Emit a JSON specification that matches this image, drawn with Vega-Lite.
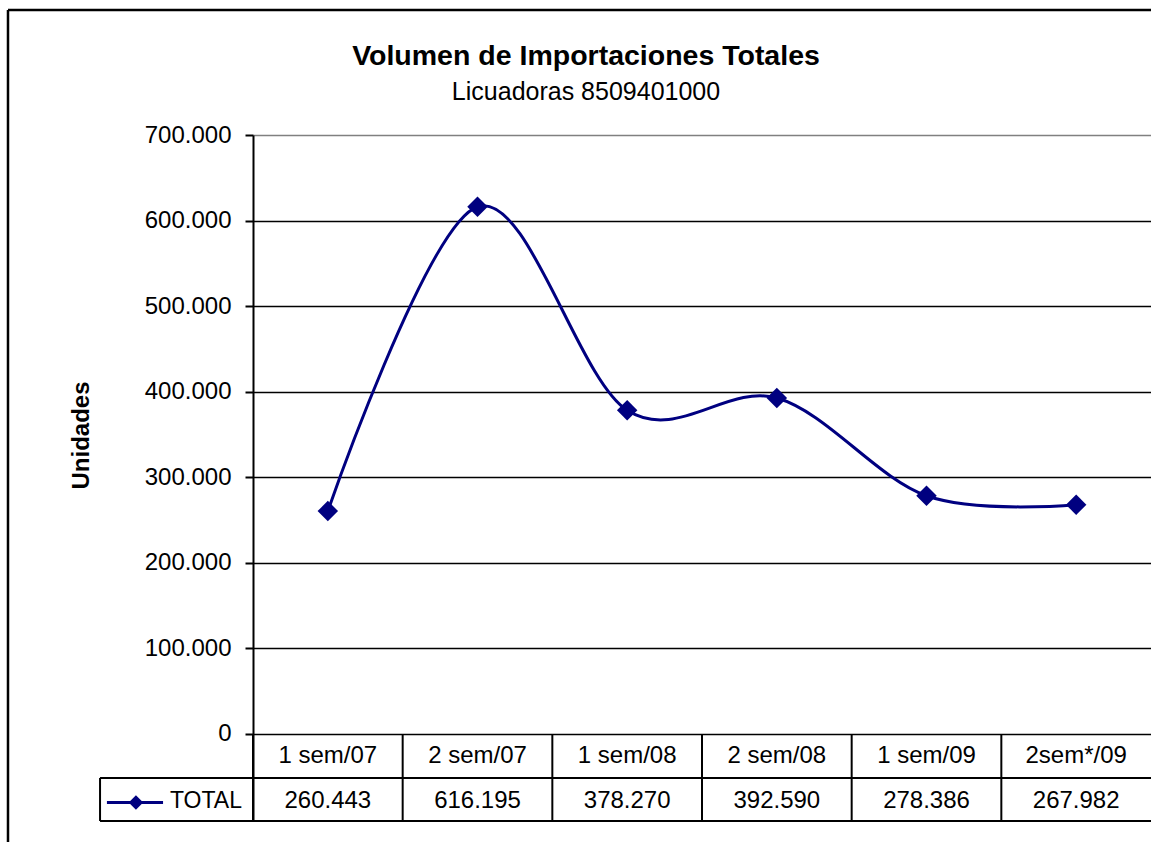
{
  "$schema": "https://vega.github.io/schema/vega-lite/v6.json",
  "width": 898,
  "height": 686,
  "autosize": {"type": "none"},
  "padding": {"left": 253, "top": 135, "right": 0, "bottom": 21},
  "background": "white",
  "title": {
    "text": "Volumen de Importaciones Totales",
    "subtitle": "Licuadoras 8509401000",
    "font": "Liberation Sans",
    "fontSize": 28.5,
    "fontWeight": "bold",
    "color": "black",
    "subtitleFont": "Liberation Sans",
    "subtitleFontSize": 25,
    "subtitleColor": "black",
    "subtitlePadding": 9,
    "anchor": "middle",
    "frame": "group",
    "dx": -116,
    "offset": -96
  },
  "datasets": {
    "importaciones": [
      {"periodo": "1 sem/07", "total": 260443},
      {"periodo": "2 sem/07", "total": 616195},
      {"periodo": "1 sem/08", "total": 378270},
      {"periodo": "2 sem/08", "total": 392590},
      {"periodo": "1 sem/09", "total": 278386},
      {"periodo": "2sem*/09", "total": 267982}
    ],
    "uno": [{}]
  },
  "data": {"name": "importaciones"},
  "resolve": {"scale": {"x": "independent"}, "axis": {"x": "independent"}},
  "layer": [
    {
      "mark": {"type": "rule", "color": "black", "strokeWidth": 2},
      "encoding": {
        "x": {"field": "periodo", "type": "ordinal", "sort": null, "bandPosition": 0, "scale": {"type": "band", "paddingInner": 0, "paddingOuter": 0}, "axis": null},
        "y": {"datum": 0},
        "y2": {"datum": -101700}
      }
    },
    {
      "mark": {"type": "line", "interpolate": "cardinal", "color": "#000080", "strokeWidth": 3},
      "encoding": {
        "x": {"field": "periodo", "type": "ordinal", "sort": null, "bandPosition": 0.5, "scale": {"type": "band", "paddingInner": 0, "paddingOuter": 0}, "axis": null},
        "y": {
          "field": "total",
          "type": "quantitative",
          "scale": {"domain": [-101700, 700000], "nice": false, "zero": false},
          "axis": {
            "values": [0, 100000, 200000, 300000, 400000, 500000, 600000, 700000],
            "format": ",d",
            "labelFont": "Liberation Sans",
            "labelFontSize": 24,
            "labelColor": "black",
            "labelPadding": 14,
            "labelFlush": false,
            "labelOverlap": false,
            "tickSize": 8,
            "tickColor": "black",
            "tickWidth": 2,
            "domainColor": "black",
            "domainWidth": 2,
            "grid": true,
            "gridColor": {"condition": {"test": "datum.value === 700000", "value": "#808080"}, "value": "black"},
            "gridWidth": 1.5,
            "title": "Unidades",
            "titleFont": "Liberation Sans",
            "titleFontSize": 24,
            "titleFontWeight": "bold",
            "titleColor": "black",
            "titleAngle": 270,
            "titleBaseline": "alphabetic",
            "titleX": -165,
            "titleY": 300
          }
        }
      }
    },
    {
      "mark": {"type": "point", "shape": "diamond", "filled": true, "size": 420, "color": "#000080", "opacity": 1},
      "encoding": {
        "x": {"field": "periodo", "type": "ordinal", "sort": null, "bandPosition": 0.5, "scale": {"type": "band", "paddingInner": 0, "paddingOuter": 0}, "axis": null},
        "y": {"field": "total", "type": "quantitative"}
      }
    },
    {
      "mark": {"type": "text", "font": "Liberation Sans", "fontSize": 24, "color": "black", "baseline": "middle", "align": "center"},
      "encoding": {
        "x": {"field": "periodo", "type": "ordinal", "sort": null, "bandPosition": 0.5, "scale": {"type": "band", "paddingInner": 0, "paddingOuter": 0}, "axis": null},
        "y": {"datum": -25700},
        "text": {"field": "periodo"}
      }
    },
    {
      "mark": {"type": "text", "font": "Liberation Sans", "fontSize": 24, "color": "black", "baseline": "middle", "align": "center"},
      "encoding": {
        "x": {"field": "periodo", "type": "ordinal", "sort": null, "bandPosition": 0.5, "scale": {"type": "band", "paddingInner": 0, "paddingOuter": 0}, "axis": null},
        "y": {"datum": -78300},
        "text": {"field": "total", "type": "quantitative", "format": ",d"}
      }
    },
    {
      "data": {"name": "uno"},
      "mark": {"type": "rule", "color": "black", "strokeWidth": 2},
      "encoding": {
        "x": {"datum": -1.022, "type": "quantitative", "scale": {"domain": [0, 6], "nice": false, "zero": false}, "axis": null},
        "x2": {"datum": 6.1},
        "y": {"datum": -51400}
      }
    },
    {
      "data": {"name": "uno"},
      "mark": {"type": "rule", "color": "black", "strokeWidth": 2},
      "encoding": {
        "x": {"datum": -1.022, "type": "quantitative", "scale": {"domain": [0, 6], "nice": false, "zero": false}, "axis": null},
        "x2": {"datum": 6.1},
        "y": {"datum": -101700}
      }
    },
    {
      "data": {"name": "uno"},
      "mark": {"type": "rule", "color": "black", "strokeWidth": 2},
      "encoding": {
        "x": {"datum": -1.022, "type": "quantitative", "scale": {"domain": [0, 6], "nice": false, "zero": false}, "axis": null},
        "y": {"datum": -51400},
        "y2": {"datum": -101700}
      }
    },
    {
      "data": {"name": "uno"},
      "mark": {"type": "rule", "color": "#000080", "strokeWidth": 3},
      "encoding": {
        "x": {"datum": -0.976, "type": "quantitative", "scale": {"domain": [0, 6], "nice": false, "zero": false}, "axis": null},
        "x2": {"datum": -0.601},
        "y": {"datum": -80000}
      }
    },
    {
      "data": {"name": "uno"},
      "mark": {"type": "point", "shape": "diamond", "filled": true, "size": 210, "color": "#000080", "opacity": 1},
      "encoding": {
        "x": {"datum": -0.782, "type": "quantitative", "scale": {"domain": [0, 6], "nice": false, "zero": false}, "axis": null},
        "y": {"datum": -80000}
      }
    },
    {
      "data": {"name": "uno"},
      "mark": {"type": "text", "font": "Liberation Sans", "fontSize": 23, "color": "black", "baseline": "middle", "align": "left"},
      "encoding": {
        "x": {"datum": -0.555, "type": "quantitative", "scale": {"domain": [0, 6], "nice": false, "zero": false}, "axis": null},
        "y": {"datum": -78300},
        "text": {"value": "TOTAL"}
      }
    },
    {
      "data": {"name": "uno"},
      "mark": {"type": "rule", "color": "black", "strokeWidth": 2.5},
      "encoding": {
        "x": {"datum": -1.637, "type": "quantitative", "scale": {"domain": [0, 6], "nice": false, "zero": false}, "axis": null},
        "y": {"datum": 846100},
        "y2": {"datum": -130000}
      }
    },
    {
      "data": {"name": "uno"},
      "mark": {"type": "rule", "color": "black", "strokeWidth": 2.5},
      "encoding": {
        "x": {"datum": -1.637, "type": "quantitative", "scale": {"domain": [0, 6], "nice": false, "zero": false}, "axis": null},
        "x2": {"datum": 6.1},
        "y": {"datum": 846100}
      }
    }
  ],
  "config": {
    "font": "Liberation Sans",
    "view": {"stroke": null},
    "locale": {
      "number": {"decimal": ",", "thousands": ".", "grouping": [3], "currency": ["", " €"]}
    }
  }
}
